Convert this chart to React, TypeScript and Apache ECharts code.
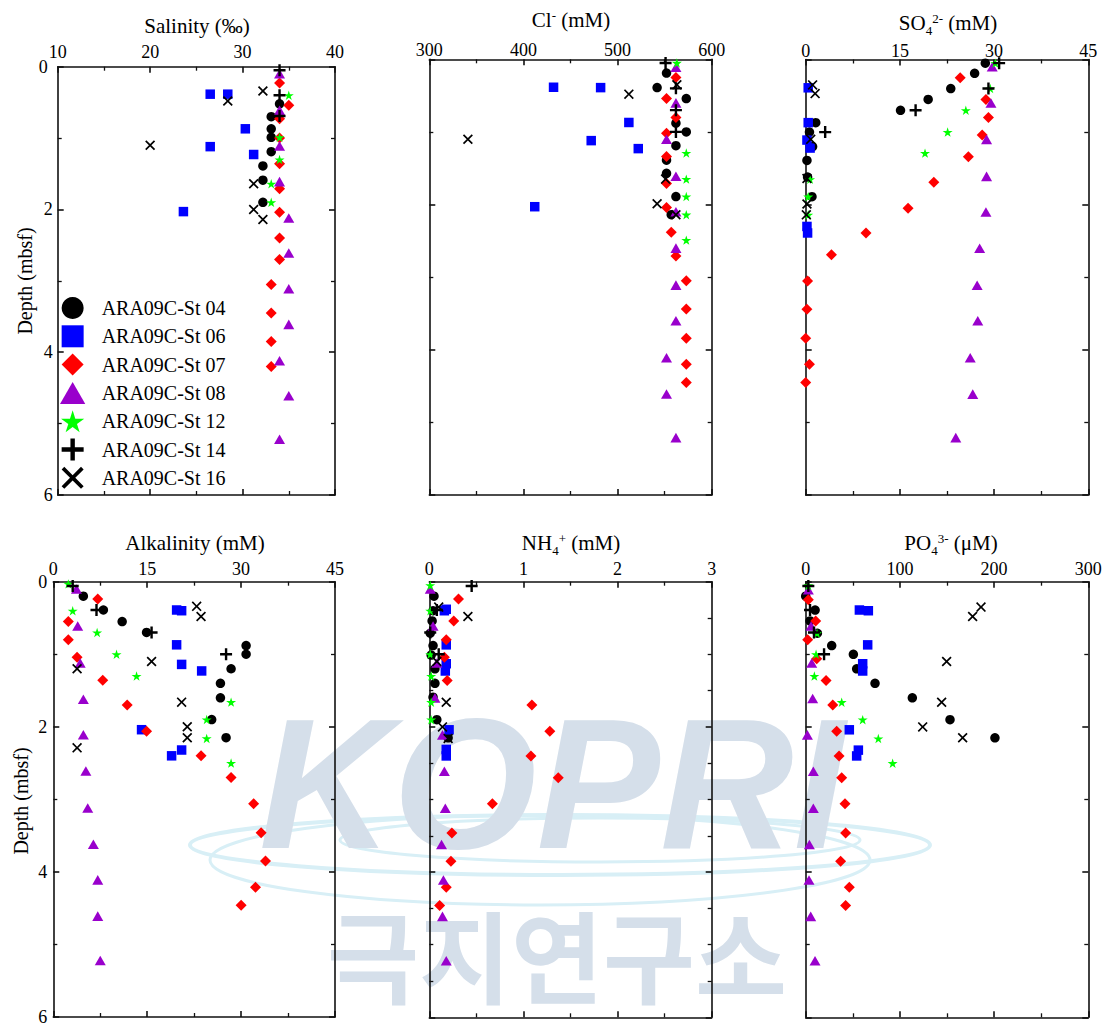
import React, { useEffect, useRef } from 'react';
import * as echarts from 'echarts';

const STATIONS = ['ARA09C-St 04', 'ARA09C-St 06', 'ARA09C-St 07', 'ARA09C-St 08', 'ARA09C-St 12', 'ARA09C-St 14', 'ARA09C-St 16'];

// each point: [value, depth (mbsf)]
// Salinity (‰)
const SAL_04 = [[34.0, 0.52], [33.1, 0.7], [33.1, 0.87], [33.1, 0.99], [33.1, 1.19], [32.2, 1.39], [32.2, 1.59], [32.2, 1.9]];
const SAL_06 = [[26.5, 0.385], [28.4, 0.385], [30.3, 0.87], [26.5, 1.12], [31.2, 1.23], [23.6, 2.03]];
const SAL_07 = [[34.0, 0.23], [35.0, 0.54], [34.0, 0.73], [34.0, 1.0], [34.0, 1.36], [34.0, 1.71], [34.0, 2.04], [34.0, 2.4], [34.0, 2.7], [33.1, 3.05], [33.1, 3.45], [33.1, 3.85], [33.1, 4.2]];
const SAL_08 = [[34.0, 0.1], [34.0, 0.61], [34.0, 1.11], [34.0, 1.61], [35.0, 2.12], [35.0, 2.61], [35.0, 3.11], [35.0, 3.61], [34.0, 4.12], [35.0, 4.61], [34.0, 5.22]];
const SAL_12 = [[35.0, 0.4], [34.0, 0.99], [34.0, 1.3], [33.1, 1.64], [33.1, 1.9]];
const SAL_14 = [[34.0, 0.05], [34.0, 0.4], [34.0, 0.69]];
const SAL_16 = [[32.2, 0.34], [28.4, 0.48], [20.0, 1.1], [31.2, 1.64], [31.2, 2.0], [32.2, 2.14]];

// Cl- (mM)
const CL_04 = [[552, 0.19], [542, 0.39], [573, 0.54], [562, 0.88], [573, 1.0], [562, 1.19], [552, 1.39], [552, 1.57], [562, 1.89], [557, 2.14]];
const CL_06 = [[432, 0.385], [482, 0.39], [512, 0.87], [472, 1.12], [522, 1.23], [412, 2.03]];
const CL_07 = [[562, 0.25], [552, 0.54], [562, 0.8], [552, 1.02], [552, 1.34], [552, 1.71], [552, 2.04], [557, 2.38], [562, 2.71], [573, 3.05], [573, 3.44], [573, 3.84], [573, 4.2], [573, 4.45]];
const CL_08 = [[562, 0.11], [562, 0.6], [552, 1.1], [562, 1.61], [562, 2.1], [562, 2.6], [562, 3.11], [562, 3.6], [552, 4.11], [552, 4.61], [562, 5.21]];
const CL_12 = [[563, 0.05], [573, 1.29], [573, 1.65], [573, 1.89], [573, 2.14], [573, 2.49]];
const CL_14 = [[551, 0.05], [562, 0.4], [562, 0.7], [562, 1.0]];
const CL_16 = [[563, 0.35], [512, 0.48], [341, 1.1], [551, 1.65], [542, 1.99], [562, 2.14]];

// SO4 2- (mM)
const SO4_04 = [[28.6, 0.05], [26.9, 0.19], [23.1, 0.4], [19.5, 0.55], [15.1, 0.7], [1.6, 0.87], [0.6, 1.0], [1.1, 1.2], [0.2, 1.39], [0.3, 1.62], [1.0, 1.89]];
const SO4_06 = [[0.4, 0.39], [0.4, 0.87], [0.2, 1.11], [0.7, 1.22], [0.2, 2.3], [0.3, 2.39]];
const SO4_07 = [[24.6, 0.25], [28.7, 0.55], [29.1, 0.8], [28.1, 1.04], [25.9, 1.34], [20.4, 1.69], [16.3, 2.05], [9.6, 2.39], [4.1, 2.69], [0.3, 3.05], [0.2, 3.44], [0.0, 3.84], [0.6, 4.2], [0.0, 4.45]];
const SO4_08 = [[29.7, 0.1], [29.5, 0.6], [28.8, 1.1], [28.8, 1.61], [28.7, 2.1], [27.7, 2.6], [27.3, 3.11], [27.4, 3.6], [26.2, 4.11], [26.6, 4.61], [23.9, 5.21]];
const SO4_12 = [[30.2, 0.05], [29.4, 0.4], [25.5, 0.7], [22.6, 1.0], [19.0, 1.29], [0.7, 1.65], [0.4, 1.89], [0.4, 2.14]];
const SO4_14 = [[30.8, 0.05], [29.1, 0.4], [17.5, 0.7], [3.1, 1.0]];
const SO4_16 = [[1.1, 0.35], [1.5, 0.47], [0.8, 1.1], [0.2, 1.64], [0.2, 1.99], [0.1, 2.14]];

// Alkalinity (mM)
const ALK_04 = [[4.8, 0.2], [8.0, 0.39], [11.0, 0.55], [14.9, 0.7], [30.8, 0.88], [30.8, 1.0], [28.4, 1.2], [26.7, 1.4], [26.7, 1.6], [25.3, 1.9], [27.6, 2.15]];
const ALK_06 = [[19.7, 0.39], [20.5, 0.4], [19.7, 0.87], [20.5, 1.14], [23.7, 1.23], [14.1, 2.04], [20.5, 2.32], [18.9, 2.4]];
const ALK_07 = [[7.1, 0.24], [2.4, 0.55], [2.4, 0.8], [3.8, 1.04], [7.9, 1.36], [11.8, 1.7], [14.9, 2.06], [23.6, 2.4], [28.4, 2.7], [32.0, 3.06], [33.2, 3.46], [33.9, 3.85], [32.3, 4.21], [30.0, 4.46]];
const ALK_08 = [[3.7, 0.1], [3.9, 0.61], [4.3, 1.12], [4.8, 1.62], [4.8, 2.11], [5.2, 2.61], [5.5, 3.12], [6.4, 3.62], [7.1, 4.11], [7.1, 4.61], [7.5, 5.22]];
const ALK_12 = [[2.4, 0.03], [3.1, 0.4], [7.0, 0.7], [10.1, 1.0], [13.3, 1.3], [28.4, 1.66], [24.5, 1.9], [24.5, 2.16], [28.4, 2.5]];
const ALK_14 = [[3.1, 0.06], [6.9, 0.39], [15.7, 0.7], [27.6, 1.0]];
const ALK_16 = [[22.9, 0.34], [23.6, 0.48], [15.7, 1.1], [3.8, 1.2], [20.5, 1.66], [21.4, 2.0], [21.4, 2.15], [3.8, 2.29]];

// NH4+ (mM)
const NH4_04 = [[0.05, 0.2], [0.04, 0.4], [0.03, 0.54], [0.01, 0.71], [0.04, 0.88], [0.02, 1.01], [0.06, 1.2], [0.06, 1.4], [0.04, 1.59], [0.08, 1.9], [0.2, 2.15]];
const NH4_06 = [[0.18, 0.38], [0.16, 0.4], [0.18, 0.87], [0.18, 1.13], [0.17, 1.23], [0.21, 2.04], [0.18, 2.31], [0.18, 2.4]];
const NH4_07 = [[0.31, 0.24], [0.26, 0.54], [0.18, 0.8], [0.16, 1.04], [0.19, 1.36], [1.09, 1.7], [1.28, 2.06], [1.08, 2.4], [1.37, 2.7], [0.67, 3.06], [0.24, 3.46], [0.23, 3.85], [0.18, 4.21], [0.11, 4.46]];
const NH4_08 = [[0.01, 0.1], [0.04, 0.61], [0.08, 1.12], [0.06, 1.6], [0.14, 2.11], [0.16, 2.61], [0.17, 3.12], [0.13, 3.62], [0.15, 4.11], [0.14, 4.61], [0.18, 5.22]];
const NH4_12 = [[0.01, 0.05], [0.01, 0.4], [0.01, 1.0], [0.02, 1.3], [0.02, 1.66], [0.02, 1.9]];
const NH4_14 = [[0.45, 0.06], [0.08, 0.39], [0.01, 0.7], [0.1, 1.0]];
const NH4_16 = [[0.1, 0.35], [0.41, 0.48], [0.08, 1.1], [0.18, 1.66], [0.14, 2.0], [0.2, 2.16]];

// PO4 3- (µM)
const PO4_04 = [[0, 0.2], [10, 0.39], [4.6, 0.54], [12.4, 0.71], [27.6, 0.88], [50.6, 1.0], [54.1, 1.2], [73.6, 1.4], [113.2, 1.6], [153.2, 1.9], [200.9, 2.15]];
const PO4_06 = [[57, 0.39], [66.5, 0.4], [65.8, 0.87], [60.5, 1.13], [60.5, 1.23], [46.3, 2.04], [55.9, 2.32], [54.1, 2.4]];
const PO4_07 = [[2.8, 0.25], [10.6, 0.54], [2.1, 0.8], [11.7, 1.06], [21.6, 1.36], [28.7, 1.7], [32.9, 2.06], [35.4, 2.4], [38.2, 2.7], [41.7, 3.06], [42.4, 3.46], [37.1, 3.85], [46.3, 4.21], [42.4, 4.46]];
const PO4_08 = [[2.8, 0.11], [5.7, 0.61], [6.4, 1.12], [7.4, 1.61], [1.8, 2.11], [8.1, 2.61], [8.1, 3.12], [3.9, 3.62], [3.5, 4.11], [5.3, 4.61], [9.9, 5.22]];
const PO4_12 = [[2.8, 0.05], [12, 0.71], [11, 1.0], [9.2, 1.3], [38.2, 1.66], [60.5, 1.9], [77.1, 2.16], [92.3, 2.5]];
const PO4_14 = [[2.8, 0.06], [4.6, 0.39], [8.8, 0.7], [19.5, 1.0]];
const PO4_16 = [[186.1, 0.35], [177.2, 0.48], [149.6, 1.1], [144.3, 1.66], [124.2, 2.0], [166.6, 2.15]];

// axis ranges: [min, max, major interval]
const X_RANGES = [[10, 40, 10], [300, 600, 100], [0, 45, 15], [0, 45, 15], [0, 3, 1], [0, 300, 100]];
const DEPTH_RANGE = [0, 6, 2];
const TITLES = ['Salinity (‰)', 'Cl{sup|-} (mM)', 'SO{sub|4}{sup|2-} (mM)', 'Alkalinity (mM)', 'NH{sub|4}{sup|+} (mM)', 'PO{sub|4}{sup|3-} (μM)'];
const PANEL_DATA = [
  [SAL_04, SAL_06, SAL_07, SAL_08, SAL_12, SAL_14, SAL_16],
  [CL_04, CL_06, CL_07, CL_08, CL_12, CL_14, CL_16],
  [SO4_04, SO4_06, SO4_07, SO4_08, SO4_12, SO4_14, SO4_16],
  [ALK_04, ALK_06, ALK_07, ALK_08, ALK_12, ALK_14, ALK_16],
  [NH4_04, NH4_06, NH4_07, NH4_08, NH4_12, NH4_14, NH4_16],
  [PO4_04, PO4_06, PO4_07, PO4_08, PO4_12, PO4_14, PO4_16],
];

const FONT = 'Liberation Serif';

// layout (px)
const GRIDS = [
  { left: 57.7, top: 66.7, width: 277.3, height: 428.3 },
  { left: 429.3, top: 59.3, width: 282.4, height: 435.7 },
  { left: 805.7, top: 59.5, width: 282.6, height: 435.5 },
  { left: 53.3, top: 581.7, width: 281.7, height: 435.6 },
  { left: 429.3, top: 581.7, width: 282.4, height: 435.6 },
  { left: 805.7, top: 581.7, width: 282.6, height: 435.6 },
];
const X_LABEL_MARGIN = [8, 2, 2, 6, 6, 6];
const Y_MINOR_SPLIT = [2, 2, 2, 2, 4, 2];
const TITLE_POS = [[197, 26], [571, 20], [948, 23], [195, 543], [571, 543], [951, 543]];

const STAR = 'path://M50,0L61,35L98,35L68,57L79,91L50,70L21,91L32,57L2,35L39,35Z';
const PLUS = 'path://M4,0H6V4H10V6H6V10H4V6H0V4H4Z';
const CROSS = 'path://M0,1.2L1.2,0L5,3.8L8.8,0L10,1.2L6.2,5L10,8.8L8.8,10L5,6.2L1.2,10L0,8.8L3.8,5Z';
const SQUARE = 'path://M0,0H10V10H0Z';
const DIAMOND = 'path://M5,0L10,5L5,10L0,5Z';
const TRIANGLE = 'path://M5,0L10,8.7L0,8.7Z';

const STYLES = [
  { symbol: 'circle', size: 9.5, color: '#000000' },
  { symbol: SQUARE, size: 9.5, color: '#0000ff' },
  { symbol: DIAMOND, size: 11, color: '#ff0000' },
  { symbol: TRIANGLE, size: 11, color: '#9900cc' },
  { symbol: STAR, size: 10, color: '#00ff00' },
  { symbol: PLUS, size: 12, color: '#000000' },
  { symbol: CROSS, size: 10, color: '#000000' },
];

const LINE = { color: '#111', width: 1.6 };

function buildOption() {
  const xAxis: any[] = [];
  const yAxis: any[] = [];
  const grid = GRIDS.map((g) => ({ ...g, show: false }));
  for (let pass = 0; pass < 2; pass++) {
    for (let i = 0; i < 6; i++) {
      const [mn, mx, iv] = X_RANGES[i];
      const primary = pass === 0;
      xAxis.push({
        type: 'value', gridIndex: i, position: primary ? 'top' : 'bottom',
        min: mn, max: mx, interval: iv,
        axisLine: { show: true, onZero: false, lineStyle: LINE },
        axisTick: { show: true, inside: true, length: 6, lineStyle: LINE },
        minorTick: { show: true, splitNumber: 2, length: 4, lineStyle: { color: '#111', width: 1.3 } },
        axisLabel: { show: primary, margin: X_LABEL_MARGIN[i], fontSize: 18, lineHeight: 14, fontFamily: FONT, color: '#000' },
        splitLine: { show: false },
      });
      yAxis.push({
        type: 'value', gridIndex: i, position: primary ? 'left' : 'right', inverse: true,
        min: DEPTH_RANGE[0], max: DEPTH_RANGE[1], interval: DEPTH_RANGE[2],
        axisLine: { show: true, onZero: false, lineStyle: LINE },
        axisTick: { show: true, inside: true, length: 6, lineStyle: LINE },
        minorTick: { show: true, splitNumber: Y_MINOR_SPLIT[i], length: 4, lineStyle: { color: '#111', width: 1.3 } },
        axisLabel: {
          show: primary && (i === 0 || i === 3), margin: i === 0 ? 5 : 6, fontSize: 18, lineHeight: 14, fontFamily: FONT, color: '#000',
          formatter: (v: number) => (v === 0 ? '{z|0}' : String(v)),
          rich: { z: { fontSize: 18, fontFamily: FONT, color: '#000', padding: [0, i === 0 ? 5 : 0, 0, 0] } },
        },
        splitLine: { show: false },
      });
    }
  }
  const series: any[] = [];
  PANEL_DATA.forEach((panel, p) => {
    panel.forEach((pts, s) => {
      series.push({
        type: 'scatter', name: STATIONS[s], xAxisIndex: p, yAxisIndex: p,
        data: pts, symbol: STYLES[s].symbol, symbolSize: STYLES[s].size, symbolKeepAspect: true,
        itemStyle: { color: STYLES[s].color, borderWidth: 0, opacity: 1 },
        z: 3 + s,
      });
    });
  });
  const rich = {
    sup: { fontSize: 13, fontFamily: FONT, fill: '#000', padding: [0, 0, 10, 0] },
    sub: { fontSize: 13, fontFamily: FONT, fill: '#000', padding: [14, 0, 0, 0] },
  };
  const graphic: any[] = [
    // watermark
    { type: 'ellipse', z: -1, shape: { cx: 560, cy: 845, rx: 370, ry: 30 }, style: { fill: 'none', stroke: '#d8eff6', lineWidth: 4 } },
    { type: 'ellipse', z: -1, shape: { cx: 540, cy: 860, rx: 330, ry: 45 }, style: { fill: 'none', stroke: '#d8eff6', lineWidth: 3 } },
    { type: 'ellipse', z: -1, shape: { cx: 600, cy: 840, rx: 260, ry: 22 }, style: { fill: 'none', stroke: '#d8eff6', lineWidth: 3 } },
    { type: 'text', z: -1, x: 552, y: 784, style: { text: 'KOPRI', fontSize: 185, fontFamily: 'Liberation Sans', fontWeight: 'bold', fontStyle: 'italic', fill: '#d5dfea', textAlign: 'center', textVerticalAlign: 'middle' } },
    { type: 'text', z: -1, x: 557, y: 952, style: { text: '극지연구소', fontSize: 100, fontFamily: 'Noto Sans CJK KR', fontWeight: 'bold', fill: '#d5dfea', textAlign: 'center', textVerticalAlign: 'middle' } },
    // axis names
    { type: 'text', x: 25, y: 281, rotation: Math.PI / 2, style: { text: 'Depth (mbsf)', fontSize: 20, fontFamily: FONT, fill: '#000', textAlign: 'center', textVerticalAlign: 'middle' } },
    { type: 'text', x: 21, y: 801, rotation: Math.PI / 2, style: { text: 'Depth (mbsf)', fontSize: 20, fontFamily: FONT, fill: '#000', textAlign: 'center', textVerticalAlign: 'middle' } },
  ];
  TITLES.forEach((t, i) => {
    graphic.push({
      type: 'text', x: TITLE_POS[i][0], y: TITLE_POS[i][1],
      style: { text: t, rich, fontSize: 21, fontFamily: FONT, fill: '#000', textAlign: 'center', textVerticalAlign: 'middle' },
    });
  });
  return {
    animation: false,
    backgroundColor: '#ffffff',
    grid, xAxis, yAxis, series, graphic,
    legend: {
      show: true, orient: 'vertical', left: 55, top: 292, itemWidth: 48, itemHeight: 22, itemGap: 6.3,
      selectedMode: false, data: STATIONS,
      textStyle: { fontSize: 20, fontFamily: FONT, color: '#000' },
    },
  };
}

export default function App() {
  const ref = useRef<HTMLDivElement>(null);
  useEffect(() => {
    if (!ref.current) return;
    const chart = echarts.init(ref.current, null, { renderer: 'svg' });
    chart.setOption(buildOption() as any);
    return () => chart.dispose();
  }, []);
  return <div ref={ref} style={{ position: 'absolute', left: 0, top: 0, width: 1109, height: 1026, background: '#fff' }} />;
}
